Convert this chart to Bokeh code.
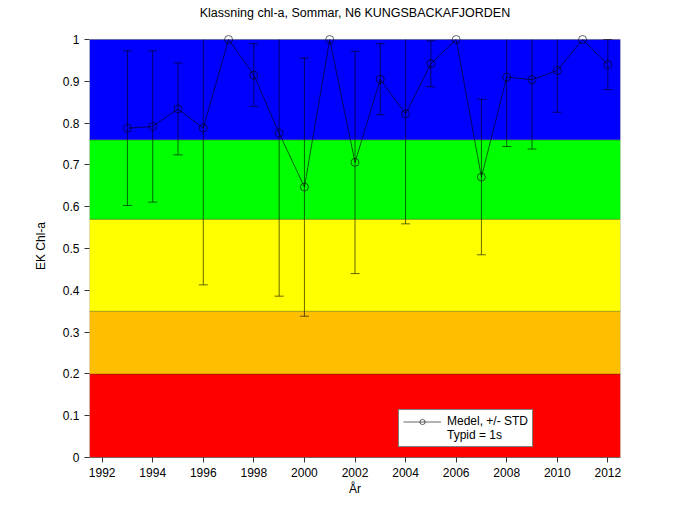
import numpy as np
from bokeh.plotting import figure
from bokeh.models import (Range1d, FixedTicker, PrintfTickFormatter, Legend,
                          LegendItem, ColumnDataSource, LinearAxis)
from bokeh.embed import file_html
from bokeh.resources import INLINE

# ---- data ----
years = [1993, 1994, 1995, 1996, 1997, 1998, 1999, 2000, 2001, 2002,
         2003, 2004, 2005, 2006, 2007, 2008, 2009, 2010, 2011, 2012]
medel = [0.788, 0.792, 0.834, 0.788, 1.000, 0.915, 0.776, 0.647, 1.000, 0.706,
         0.905, 0.822, 0.942, 1.000, 0.671, 0.910, 0.904, 0.926, 1.000, 0.940]
std = [0.185, 0.181, 0.110, 0.375, 0.000, 0.075, 0.390, 0.309, 0.000, 0.266,
       0.085, 0.263, 0.055, 0.000, 0.186, 0.166, 0.166, 0.100, 0.000, 0.060]

band_bottom = [0.0, 0.20, 0.35, 0.57, 0.76]
band_top = [0.20, 0.35, 0.57, 0.76, 1.0]
band_colors = ["#FF0000", "#FFBF00", "#FFFF00", "#00FF00", "#0000FF"]

x_ticks = list(range(1992, 2013, 2))
y_ticks = [0, 0.1, 0.2, 0.3, 0.4, 0.5, 0.6, 0.7, 0.8, 0.9, 1]
x_start, x_end = 1991.5, 2012.5
y_top = 1.0          # top of the axes (values above are clipped)
y_room = 0.012       # small white room so the markers at 1.0 are not cut
title_text = "Klassning chl-a, Sommar, N6 KUNGSBACKAFJORDEN"

FONT = "Liberation Sans"

p = figure(width=685, height=514, output_backend="svg", toolbar_location=None,
           x_range=Range1d(x_start, x_end), y_range=Range1d(0, y_top + y_room),
           min_border_left=89, min_border_right=65,
           min_border_top=34, min_border_bottom=57)

p.grid.visible = False
p.outline_line_color = None
p.background_fill_color = "white"
p.border_fill_color = "white"

# colour bands
band_src = ColumnDataSource(dict(bottom=band_bottom, top=band_top, color=band_colors,
                                 left=[x_start] * len(band_top), right=[x_end] * len(band_top)))
p.quad(left="left", right="right", bottom="bottom", top="top", fill_color="color",
       line_color="#333300", line_width=0.6, line_alpha=0.5, source=band_src)

# error bars (clipped at the top of the axes like the original)
y = np.array(medel)
s = np.array(std)
mask = s > 0
hi_full = (y + s)[mask]
eb = ColumnDataSource(dict(x=np.array(years)[mask], lo=(y - s)[mask],
                           hi=np.minimum(hi_full, y_top)))
p.segment(x0="x", y0="lo", x1="x", y1="hi", line_color="black", line_width=0.6, source=eb)
p.scatter(x="x", y="lo", marker="dash", size=9, line_color="black", line_width=0.6, source=eb)
cap_mask = hi_full <= y_top
caps = ColumnDataSource(dict(x=np.array(years)[mask][cap_mask], hi=hi_full[cap_mask]))
p.scatter(x="x", y="hi", marker="dash", size=9, line_color="black", line_width=0.6, source=caps)

src = ColumnDataSource(dict(x=years, y=medel))
line_r = p.line("x", "y", line_color="black", line_width=0.6, source=src)
circ_r = p.scatter("x", "y", marker="circle", size=8, fill_color=None,
                   line_color="black", line_width=0.6, source=src)
dummy = p.line([x_start], [0], line_alpha=0)

# title drawn as the label of a tick-less axis above the frame
title_axis = LinearAxis(ticker=FixedTicker(ticks=[]), axis_label=title_text,
                        axis_line_color=None, major_tick_line_color=None,
                        minor_tick_line_color=None, major_tick_out=0, minor_tick_out=0,
                        major_tick_in=0, minor_tick_in=0,
                        axis_label_text_font=FONT, axis_label_text_font_size="12.5px",
                        axis_label_text_font_style="normal", axis_label_text_color="black",
                        axis_label_standoff=15)
p.add_layout(title_axis, "above")

# axes
xa = p.below[0]
ya = p.left[0]
xa.ticker = FixedTicker(ticks=x_ticks)
ya.ticker = FixedTicker(ticks=y_ticks)
ya.formatter = PrintfTickFormatter(format="%g")
for ax in (xa, ya):
    ax.major_label_text_font = FONT
    ax.major_label_text_font_size = "12px"
    ax.major_label_text_color = "black"
    ax.axis_label_text_font = FONT
    ax.axis_label_text_font_size = "12px"
    ax.axis_label_text_font_style = "normal"
    ax.axis_label_text_color = "black"
    ax.major_tick_out = 5
    ax.major_tick_in = 0
    ax.minor_tick_out = 0
    ax.minor_tick_in = 0
    ax.major_tick_line_color = "#333333"
    ax.axis_line_width = 0.6
xa.axis_line_color = "#333333"
xa.axis_label = "År"
xa.axis_label_standoff = 2
ya.axis_line_color = None
ya.axis_label = "EK Chl-a"
ya.axis_label_standoff = 12

legend = Legend(items=[LegendItem(label="Medel, +/- STD", renderers=[line_r, circ_r]),
                       LegendItem(label="Typid = 1s", renderers=[dummy])],
                location=(309, 10))
legend.label_text_font = FONT
legend.label_text_font_size = "12px"
legend.label_text_color = "black"
legend.label_height = 13
legend.glyph_height = 13
legend.glyph_width = 38
legend.label_standoff = 6
legend.spacing = 0
legend.padding = 4
legend.margin = 0
legend.border_line_color = "black"
legend.border_line_width = 1
legend.background_fill_color = "white"
legend.background_fill_alpha = 1
p.add_layout(legend)

open("out.html", "w").write(file_html(p, INLINE))
